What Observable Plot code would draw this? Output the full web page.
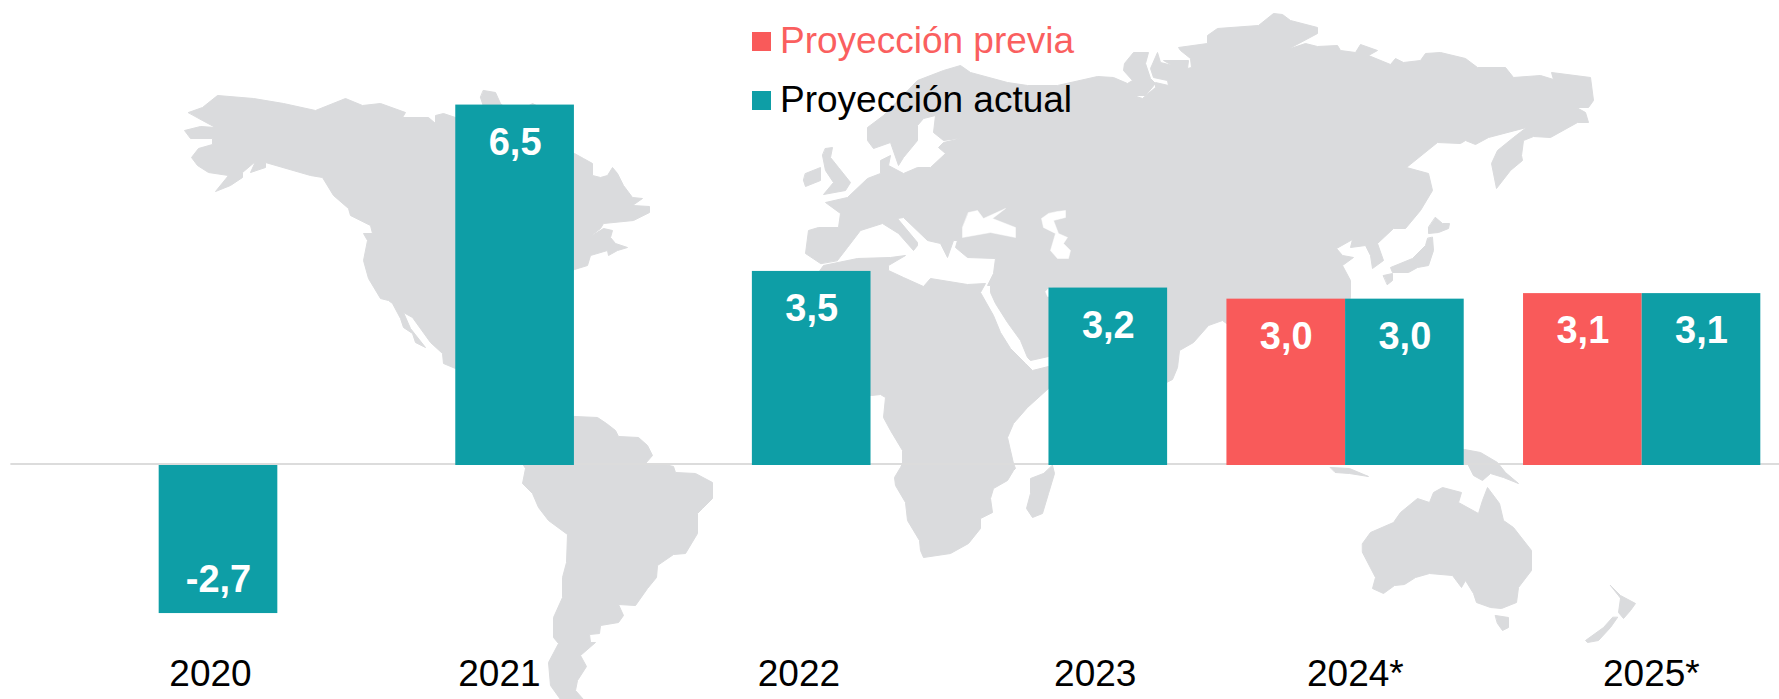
<!DOCTYPE html>
<html lang="es">
<head>
<meta charset="utf-8">
<title>Proyección de crecimiento mundial</title>
<script src="https://cdn.jsdelivr.net/npm/d3@7"></script>
<script src="https://cdn.jsdelivr.net/npm/@observablehq/plot@0.6"></script>
<style>
  html, body { margin: 0; padding: 0; background: #fff; }
  #stage { position: relative; width: 1779px; height: 699px; overflow: hidden; font-family: "Liberation Sans", Arial, sans-serif; }
  #stage > svg { position: absolute; left: 0; top: 0; }
  .key { position: absolute; left: 752px; font-size: 37px; line-height: 37px; white-space: nowrap; }
  .key i { position: absolute; left: 0; top: 10.5px; width: 19px; height: 19px; }
  .key span { position: absolute; left: 28px; top: 0; }
</style>
</head>
<body>
<div id="stage"></div>
<script>
// Chart values
const years = ["2020", "2021", "2022", "2023", "2024*", "2025*"];
const actual = [-2.67, 6.5, 3.5, 3.2, 3.0, 3.1];
const previous = [null, null, null, null, 3.0, 3.1];
const seriesNames = ["Proyección previa", "Proyección actual"];
const seriesColors = ["#F95A5A", "#0E9EA6"];
const mapColor = "#DADBDD";

// Background world map, traced outlines in the picture's own map units
const northAmerica = [[188,112],[202,107],[217,95],[253,98],[283,103],[315,110],[345,98],[362,105],[380,103],[405,112],[402,117],[428,117],[435,123],[435,115],[443,113],[455,117],[500,110],[574,153],[583,158],[592,163],[592,175],[600,177],[607,175],[612,167],[617,173],[623,185],[632,197],[642,198],[632,205],[649,206],[649,212],[633,220],[603,223],[600,228],[587,238],[603,228],[612,230],[610,237],[615,243],[627,247],[617,250],[608,255],[607,250],[590,255],[587,265],[574,269],[500,340],[455,368],[443,363],[442,353],[430,342],[412,317],[403,312],[410,328],[425,347],[415,342],[412,333],[403,327],[400,318],[392,303],[388,300],[380,298],[368,278],[363,260],[367,240],[363,233],[372,233],[370,225],[350,215],[348,208],[333,195],[322,177],[310,175],[265,162],[265,167],[250,172],[255,161],[242,172],[242,177],[230,185],[215,191],[228,175],[208,172],[197,165],[191,157],[198,148],[212,144],[212,138],[190,138],[184,130],[200,126],[215,127],[202,120]];
const arcticIsland = [[483,90],[495,92],[500,103],[510,112],[485,112],[480,97]];
const arcticIsland2 = [[527,106],[532,103],[538,106],[538,112],[527,112]];
const southAmerica = [[574,416],[597,417],[606,423],[615,430],[618,436],[638,437],[647,445],[652,455],[645,463],[660,463],[673,466],[675,472],[695,473],[712,482],[712,498],[702,508],[697,513],[697,533],[685,553],[673,554],[657,565],[656,577],[647,588],[635,605],[618,604],[623,615],[618,622],[600,625],[599,633],[589,634],[590,642],[595,642],[580,655],[586,666],[577,680],[575,690],[583,699],[560,699],[550,685],[548,662],[558,643],[553,637],[553,617],[562,597],[562,577],[566,562],[567,534],[548,520],[538,507],[532,493],[522,483],[525,468],[522,463],[530,440]];
const eurasia = [[820,263],[805,253],[808,230],[818,227],[838,227],[840,213],[825,202],[847,197],[867,178],[880,173],[880,160],[890,155],[888,165],[903,173],[917,167],[930,167],[945,153],[938,147],[943,142],[965,137],[943,140],[933,132],[935,115],[923,118],[917,125],[917,140],[903,157],[898,165],[890,142],[873,148],[867,140],[867,127],[883,115],[917,80],[943,70],[960,65],[970,72],[1007,82],[1027,85],[1057,85],[1097,76],[1113,77],[1127,83],[1132,80],[1123,70],[1124,63],[1133,52],[1148,52],[1145,63],[1150,78],[1155,83],[1145,95],[1133,95],[1142,98],[1155,87],[1155,82],[1168,85],[1167,80],[1153,77],[1150,68],[1157,52],[1160,62],[1172,65],[1163,60],[1188,60],[1187,68],[1191,67],[1190,58],[1180,50],[1178,47],[1207,43],[1207,35],[1217,28],[1258,25],[1273,13],[1282,14],[1290,20],[1317,27],[1317,33],[1287,49],[1305,43],[1317,46],[1337,45],[1340,50],[1355,52],[1360,44],[1377,50],[1368,55],[1390,64],[1395,58],[1403,62],[1420,60],[1425,53],[1440,52],[1465,58],[1477,67],[1505,67],[1513,77],[1540,75],[1553,79],[1551,72],[1590,77],[1593,100],[1588,107],[1576,107],[1585,112],[1588,122],[1577,122],[1550,137],[1533,136],[1523,140],[1521,155],[1522,160],[1510,170],[1496,188],[1491,163],[1497,150],[1513,137],[1526,127],[1488,137],[1475,144],[1465,140],[1460,143],[1437,142],[1406,167],[1428,173],[1432,190],[1420,210],[1405,228],[1393,228],[1377,243],[1383,260],[1372,268],[1370,255],[1365,245],[1350,247],[1352,239],[1336,248],[1342,255],[1353,257],[1342,265],[1350,280],[1350,297],[1346,310],[1230,323],[1226,323],[1222,320],[1208,325],[1193,342],[1179,350],[1177,367],[1172,379],[1160,385],[1048,356],[1030,360],[1027,357],[1020,340],[1007,322],[995,303],[990,292],[990,285],[987,285],[993,273],[995,258],[967,257],[955,247],[957,240],[953,240],[947,257],[940,243],[927,240],[903,217],[897,218],[917,242],[917,245],[913,250],[898,233],[882,223],[860,230],[847,247],[837,260]];
const africa = [[818,272],[823,265],[857,258],[890,257],[905,255],[888,265],[888,270],[903,277],[923,286],[930,278],[967,284],[985,283],[980,292],[993,315],[1000,332],[1010,348],[1025,363],[1032,370],[1048,366],[1060,375],[1048,388],[1027,407],[1013,423],[1007,437],[1013,463],[1015,468],[1013,470],[1007,480],[993,488],[990,498],[992,512],[980,518],[980,528],[968,543],[950,553],[923,557],[920,550],[919,540],[907,520],[905,502],[895,485],[894,477],[900,467],[902,463],[902,450],[890,430],[883,417],[885,397],[880,394],[871,395],[800,395],[780,300]];
const britain = [[825,148],[832,147],[830,157],[838,167],[850,182],[845,190],[823,194],[833,182],[825,170],[822,155]];
const ireland = [[805,173],[820,167],[820,180],[805,186],[803,180]];
const hokkaido = [[1435,217],[1442,223],[1449,223],[1448,228],[1438,232],[1428,233],[1428,227]];
const honshu = [[1432,237],[1433,250],[1428,265],[1417,267],[1408,272],[1392,272],[1390,267],[1412,258],[1425,245],[1427,238]];
const kyushu = [[1383,275],[1392,273],[1392,280],[1387,284]];
const madagascar = [[1052,465],[1054,473],[1048,493],[1042,513],[1032,517],[1026,508],[1030,493],[1030,478],[1043,473]];
const java = [[1330,467],[1349,468],[1368,476],[1349,473],[1335,472]];
const newGuinea = [[1455,449],[1464,449],[1480,452],[1497,462],[1505,472],[1518,483],[1503,477],[1490,473],[1482,480],[1473,475],[1467,463],[1455,463]];
const australia = [[1362,543],[1370,532],[1393,522],[1400,512],[1417,498],[1429,502],[1433,492],[1442,487],[1461,492],[1458,502],[1478,513],[1482,500],[1487,487],[1499,503],[1503,520],[1513,527],[1531,550],[1531,570],[1518,587],[1516,602],[1501,608],[1490,607],[1476,602],[1473,593],[1465,580],[1461,587],[1452,575],[1429,573],[1415,577],[1404,584],[1394,585],[1383,593],[1372,588],[1375,577],[1362,552]];
const tasmania = [[1495,615],[1508,617],[1508,627],[1502,630],[1497,623]];
const nzNorth = [[1610,585],[1620,595],[1635,603],[1630,610],[1623,618],[1618,612],[1620,598]];
const nzSouth = [[1617,617],[1610,627],[1598,640],[1587,642],[1585,640],[1603,627],[1612,617]];
const blackSea = [[968,212],[977,210],[983,218],[1005,208],[992,218],[1015,227],[1015,237],[990,232],[962,237],[962,227]];
const caspian = [[1057,211],[1065,210],[1065,217],[1053,220],[1058,233],[1067,237],[1063,243],[1070,250],[1068,258],[1057,258],[1050,250],[1055,233],[1043,227],[1041,218],[1048,213]];
const persianGulf = [[1048,288],[1045,291],[1047,296],[1052,296],[1052,288]];

const land = [northAmerica, arcticIsland, arcticIsland2, southAmerica, eurasia, africa, britain, ireland, hokkaido, honshu, kyushu, madagascar, java, newGuinea, australia, tasmania, nzNorth, nzSouth];
const seas = [blackSea, caspian, persianGulf];
const toGeo = (rings) => ({
  type: "MultiPolygon",
  coordinates: rings.map((r) => [[...r, r[0]]])
});

const stage = document.getElementById("stage");

// Map layer: its outlines use a planar identity projection
stage.append(Plot.plot({
  width: 1779, height: 699, margin: 0,
  projection: d3.geoIdentity(),
  style: { background: "#fff" },
  marks: [
    Plot.geo(toGeo(land), { fill: mapColor, stroke: mapColor, strokeWidth: 1, strokeLinejoin: "round" }),
    Plot.geo(toGeo(seas), { fill: "#fff", stroke: "#fff", strokeWidth: 0.5, strokeLinejoin: "round" })
  ]
}));

// Bars: each year is one unit wide and holds two slots
const barRows = [
  ...years.flatMap((year, i) => previous[i] == null ? [] : [{ i, slot: 0, value: previous[i] }]),
  ...years.map((year, i) => ({ i, slot: 1, value: actual[i] }))
];
const slotStart = (d) => d.i + 0.1 + d.slot * 0.4;
const comma = (v) => v.toFixed(1).replace(".", ",");
// The year labels are placed by hand in the reference, off the category centres
const labelCentre = [0.673, 1.647, 2.657, 3.656, 4.533, 5.531];

stage.append(Plot.plot({
  width: 1779, height: 699, margin: 0,
  style: { background: "transparent", fontFamily: "'Liberation Sans', Arial, sans-serif" },
  x: { domain: [-0.035, 5.963], axis: null },
  y: { domain: [-4.22, 8.386], axis: null },
  color: { domain: seriesNames, range: seriesColors },
  marks: [
    Plot.ruleY([0], { x1: 0, x2: 5.963, stroke: "#DCDCDC", strokeWidth: 2, dy: -1.5 }),
    Plot.rectY(barRows, {
      x1: slotStart,
      x2: (d) => slotStart(d) + 0.4,
      y1: 0,
      y2: "value",
      fill: (d) => seriesNames[d.slot]
    }),
    Plot.text(barRows.filter((d) => d.value >= 0), {
      x: (d) => slotStart(d) + 0.2,
      y: "value",
      text: (d) => comma(d.value),
      dy: 37.5, fill: "#fff", fontWeight: "bold", fontSize: 38, textAnchor: "middle"
    }),
    Plot.text(barRows.filter((d) => d.value < 0), {
      x: (d) => slotStart(d) + 0.2,
      y: "value",
      text: (d) => comma(d.value),
      dy: -34, fill: "#fff", fontWeight: "bold", fontSize: 38, textAnchor: "middle"
    }),
    Plot.text(years, {
      x: (d, i) => labelCentre[i],
      frameAnchor: "bottom",
      text: (d) => d,
      lineAnchor: "bottom",
      dy: -14, fill: "#000", fontSize: 37, textAnchor: "middle"
    })
  ]
}));

// Legend, laid over the chart at the top
const legendTops = [21.5, 80.5];
const legendInk = ["#FA5F5F", "#000"];
seriesNames.forEach((name, k) => {
  const row = document.createElement("div");
  row.className = "key";
  row.style.top = legendTops[k] + "px";
  const swatch = document.createElement("i");
  swatch.style.background = seriesColors[k];
  const label = document.createElement("span");
  label.textContent = name;
  label.style.color = legendInk[k];
  row.append(swatch, label);
  stage.append(row);
});
</script>
</body>
</html>
